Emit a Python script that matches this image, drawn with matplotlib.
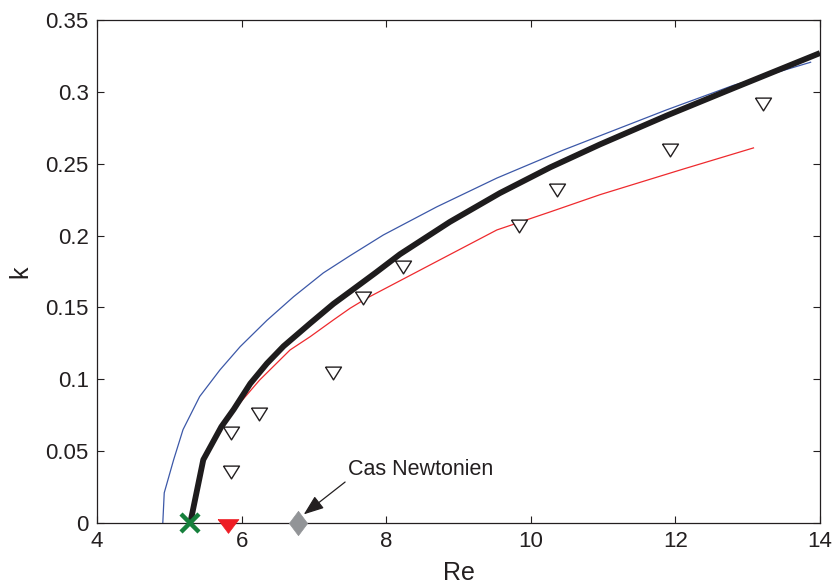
import matplotlib
matplotlib.use("Agg")

import matplotlib.pyplot as plt
import numpy as np

plt.rcParams["font.family"] = ["Liberation Sans", "DejaVu Sans"]

# ── data ────────────────────────────────────────────────────────────────────
re_black = [5.29, 5.47, 5.72, 5.89, 6.12, 6.35, 6.58, 6.95, 7.27, 7.50, 7.85,
            8.19, 8.88, 9.57, 10.27, 10.96, 11.88, 12.80, 14.0]
k_black = [0.0, 0.044, 0.067, 0.079, 0.097, 0.111, 0.123, 0.139, 0.1525, 0.161,
           0.174, 0.187, 0.2095, 0.2295, 0.2475, 0.2635, 0.2835, 0.3025, 0.327]

re_blue = [4.91, 4.93, 5.06, 5.19, 5.42, 5.70, 5.98, 6.35, 6.72, 7.13, 7.50,
           7.96, 8.70, 9.53, 10.45, 10.96, 11.88, 12.80, 13.87]
k_blue = [0.0, 0.021, 0.044, 0.065, 0.088, 0.1065, 0.1227, 0.141, 0.1575, 0.174,
          0.186, 0.2004, 0.220, 0.240, 0.2595, 0.2695, 0.2875, 0.3045, 0.3206]

re_red = [5.29, 5.47, 5.72, 5.95, 6.25, 6.67, 6.95, 7.27, 7.50, 7.73, 8.65,
          9.53, 10.27, 10.96, 12.11, 13.08]
k_red = [0.0, 0.044, 0.067, 0.082, 0.0995, 0.1204, 0.1297, 0.1413, 0.1494,
         0.1564, 0.1807, 0.2039, 0.2165, 0.2285, 0.2463, 0.261]

re_exp = [5.85, 5.86, 6.24, 7.27, 7.68, 8.23, 9.83, 10.36, 11.93, 13.21]
k_exp = [0.0357, 0.0624, 0.0759, 0.1046, 0.1564, 0.1784, 0.2067, 0.2317,
         0.2596, 0.2916]

re_cross, k_cross = [5.29], [0.0]
re_redtri, k_redtri = [5.81], [0.0]
re_newton, k_newton = [6.78], [0.0]

xticks = [4, 6, 8, 10, 12, 14]
yticks = [0, 0.05, 0.1, 0.15, 0.2, 0.25, 0.3, 0.35]
ytick_labels = ["0", "0.05", "0.1", "0.15", "0.2", "0.25", "0.3", "0.35"]

# ── markers ─────────────────────────────────────────────────────────────────
tri_open = [(-1, 0.8), (1, 0.8), (0, -0.8), (-1, 0.8)]
tri_red = [(-1, 0.38), (1, 0.38), (0, -0.95), (-1, 0.38)]
diamond = [(0, 1), (0.75, 0), (0, -1), (-0.75, 0), (0, 1)]

fig = plt.figure(figsize=(8.35, 5.88), dpi=100)
ax = fig.add_axes([97 / 835, 65 / 588, 723 / 835, 503 / 588])

ax.plot(re_blue, k_blue, color="#3C58A8", lw=0.9, zorder=2)
ax.plot(re_red, k_red, color="#EE2A2E", lw=0.9, zorder=2)
ax.plot(re_black, k_black, color="#1E1C1D", lw=4.2, zorder=3,
        solid_capstyle="butt", solid_joinstyle="round")

ax.plot(re_exp, k_exp, ls="none", marker=tri_open, ms=11.5,
        mfc="white", mec="#231F20", mew=1.0, zorder=4)

ax.plot(re_cross, k_cross, ls="none", marker="x", ms=13, mew=3.2,
        color="#16803C", zorder=5, clip_on=False)
ax.plot(re_redtri, k_redtri, ls="none", marker=tri_red, ms=15,
        mfc="#EE1D25", mec="#EE1D25", mew=0.5, zorder=5, clip_on=False)
ax.plot(re_newton, k_newton, ls="none", marker=diamond, ms=17.5,
        mfc="#929497", mec="#929497", mew=0.5, zorder=5, clip_on=False)

ax.annotate("Cas Newtonien", xy=(6.86, 0.006), xytext=(7.47, 0.0335),
            fontsize=15.5, ha="left", va="baseline", color="#231F20",
            arrowprops=dict(arrowstyle="-|>,head_length=0.8,head_width=0.3",
                            color="#231F20", lw=0.9, shrinkA=0, shrinkB=0,
                            relpos=(0.0, 0.0)))

ax.set_xlim(4, 14)
ax.set_ylim(0, 0.35)
ax.set_xticks(xticks)
ax.set_yticks(yticks)
ax.set_yticklabels(ytick_labels)
ax.tick_params(direction="in", length=5, width=0.8, top=True, right=True,
               labelsize=16, colors="#231F20", pad=6)
for spine in ax.spines.values():
    spine.set_linewidth(0.9)
    spine.set_edgecolor("#231F20")

ax.set_xlabel("Re", fontsize=18, color="#231F20")
ax.set_ylabel("k", fontsize=18, color="#231F20")
ax.xaxis.set_label_coords(0.5, -0.075)
ax.yaxis.set_label_coords(-0.09, 0.5)

plt.savefig("out.png", dpi=100)
plt.close()
